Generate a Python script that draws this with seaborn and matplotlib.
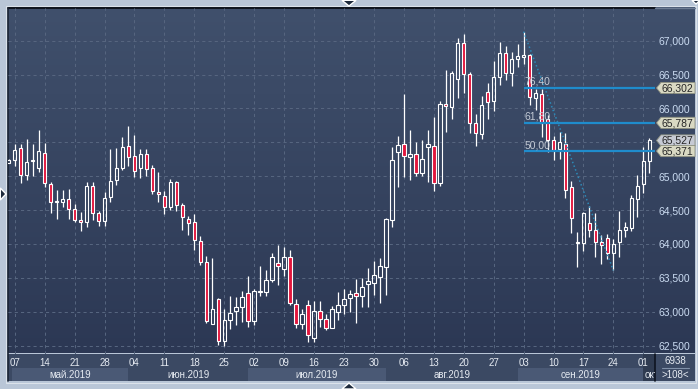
import numpy as np
import pandas as pd
import matplotlib
matplotlib.use("Agg")
import matplotlib.pyplot as plt
import matplotlib.transforms as mtransforms
from matplotlib.colors import LinearSegmentedColormap
from matplotlib.patches import Rectangle, Polygon
from matplotlib import font_manager
import seaborn as sns

# daily bars, first one is Mon 2019-05-06
opens = [65200, 65245, 65410, 65020, 65220, 65125, 65335, 64885, 64620, 64620,
         64660, 64510, 64350, 64320, 64850, 64450, 64335, 64690, 64940, 65125,
         65440, 65295, 65115, 65322, 65115, 64760, 64705, 64540, 64910, 64570,
         64375, 64330, 64050, 63740, 62818, 63193, 62567, 62882, 63015, 63074,
         63280, 62858, 63290, 63295, 63470, 63720, 63632, 63814, 63118, 62824,
         63103, 62618, 63015, 62897, 62765, 62995, 63103, 63195, 63268, 63224,
         63401, 63430, 63514, 63661, 64358, 65355, 65478, 65281, 65330, 65046,
         65429, 65448, 64898, 66067, 66028, 66428, 66961, 66502, 65792, 65629,
         66246, 66108, 66458, 66813, 66517, 66724, 66754, 66783, 66157, 66211,
         65837, 65541, 65396, 65470, 64834, 64011, 64016, 64302, 64198, 64021,
         64080, 63873, 64021, 64203, 64238, 64657, 64879, 65219]
highs = [65260, 65475, 65480, 65550, 65480, 65685, 65485, 64920, 64800, 64800,
         64805, 64595, 64470, 64920, 64920, 64485, 64760, 65400, 65410, 65585,
         65740, 65610, 65400, 65400, 65165, 65055, 64780, 64960, 64930, 64610,
         64415, 64440, 64110, 63820, 63785, 63200, 63035, 63227, 63220, 63300,
         63520, 63340, 63667, 63613, 63863, 63990, 63960, 63917, 63190, 63045,
         63177, 63157, 63157, 62970, 63079, 63294, 63340, 63318, 63489, 63504,
         63637, 63745, 63799, 64388, 65429, 65586, 66214, 65689, 65502, 65527,
         65689, 65881, 66116, 66573, 66558, 67035, 67094, 66542, 65925, 66182,
         66369, 66699, 66985, 66926, 66827, 66946, 67134, 66798, 66280, 66280,
         65910, 65595, 65658, 65633, 64928, 64169, 64465, 64558, 64450, 64129,
         64139, 64070, 64484, 64327, 64721, 65017, 65436, 65569]
lows = [65190, 65145, 64895, 64950, 65005, 65060, 64845, 64460, 64370, 64545,
        64370, 64330, 64185, 64250, 64355, 64270, 64270, 64625, 64875, 65085,
        65155, 64990, 64970, 65005, 64735, 64620, 64445, 64500, 64485, 64200,
        64130, 63910, 63685, 62830, 62818, 62502, 62493, 62740, 62810, 62850,
        62775, 62800, 63225, 63235, 63432, 63387, 63520, 63100, 62765, 62750,
        62555, 62545, 62775, 62726, 62765, 62873, 62970, 62998, 62836, 63072,
        63072, 63244, 63131, 63244, 64250, 64840, 64987, 64938, 65002, 65002,
        64909, 64776, 64854, 65650, 65846, 66157, 66221, 65639, 65447, 65556,
        65841, 65960, 66344, 66418, 66330, 66615, 66650, 66058, 65975, 65580,
        65358, 65235, 65249, 64672, 64154, 63661, 63898, 64095, 63809, 63701,
        63770, 63608, 63809, 64105, 64193, 64401, 64755, 65051]
closes = [65240, 65390, 65020, 65215, 65235, 65365, 64900, 64615, 64630, 64665,
          64510, 64360, 64320, 64850, 64455, 64335, 64685, 64930, 65125, 65435,
          65280, 65080, 65322, 65100, 64785, 64730, 64540, 64910, 64570, 64400,
          64315, 64060, 63740, 62862, 63045, 62567, 62882, 62986, 63074, 63220,
          62858, 63304, 63300, 63470, 63814, 63680, 63814, 63123, 62824, 62970,
          62652, 63015, 62897, 62765, 63035, 63103, 63192, 63254, 63224, 63357,
          63450, 63534, 63671, 64373, 65242, 65463, 65301, 65330, 65046, 65257,
          65468, 64898, 66067, 66033, 66519, 66961, 66502, 65792, 65644, 66044,
          66088, 66458, 66813, 66527, 66724, 66768, 66783, 66167, 66231, 65787,
          65541, 65383, 65500, 64795, 64376, 64020, 64450, 64198, 64021, 63991,
          63873, 64006, 64203, 64248, 64672, 64854, 65219, 65527]

start_date = "2019-05-06"
price_ticks = [62500, 63000, 63500, 64000, 64500, 65000, 65500, 66000, 66500, 67000]
fib_ratios = [0.764, 0.618, 0.5]
fib_names = ["76,40", "61,80", "50,00"]
swing_high_bar = 86
swing_low_bar = 101
volume_label = "6938"
month_abbr = {5: "май", 6: "июн", 7: "июл", 8: "авг", 9: "сен", 10: "окт"}

df = pd.DataFrame({"open": opens, "high": highs, "low": lows, "close": closes})
df["bar"] = np.arange(len(df))
df["date"] = pd.bdate_range(start_date, periods=len(df))
df["up"] = df["close"] >= df["open"]

W, H = 698, 389
frame_col = "#b9c6d7"
red = "#e2163d"

names = {f.name for f in font_manager.fontManager.ttflist}
if "Liberation Sans Narrow" in names:
    base_font, fs = "Liberation Sans Narrow", 8
else:
    base_font, fs = "Liberation Sans", 7

sns.set_theme(style="dark")
plt.rcParams["font.family"] = [base_font, "DejaVu Sans"]

fig = plt.figure(figsize=(W / 100, H / 100), dpi=100)
fig.patch.set_facecolor(frame_col)


def frac(x0, y0, x1, y1):
    return [x0 / W, 1 - y1 / H, (x1 - x0) / W, (y1 - y0) / H]


# background panel in pixel coordinates
bg = fig.add_axes([0, 0, 1, 1], zorder=0)
bg.axis("off")
grad = np.linspace(0, 1, 256).reshape(-1, 1)
cmap = LinearSegmentedColormap.from_list("panel", ["#40506c", "#2c3854"])
bg.imshow(grad, extent=(8, 695, 353.5, 8), aspect="auto", cmap=cmap, interpolation="bilinear")
bg.set_xlim(0, W)
bg.set_ylim(H, 0)
bg.add_patch(Rectangle((8, 353.5), 687, 27.5, fc="#3b4963", ec="none"))
bg.add_patch(Rectangle((6.3, 6.3), 689.4, 376.4, fill=False, ec="#dbe2ea", lw=0.8))
bg.plot([8, 655], [8.2, 8.2], color="#0b0f18", lw=1.3)
bg.plot([655, 695], [8.2, 8.2], color="#6f7e96", lw=1.0)
bg.plot([7.8, 7.8], [8, 381], color="#1b2434", lw=1.2)

# main chart
ax = fig.add_axes(frac(8, 8, 655, 353.5), zorder=2)
ax.set_facecolor("none")

body_lo = df[["open", "close"]].min(axis=1)
body_hi = df[["open", "close"]].max(axis=1)
ax.vlines(df["bar"], df["low"], body_lo, color="white", lw=0.9, zorder=3)
ax.vlines(df["bar"], body_hi, df["high"], color="white", lw=0.9, zorder=3)
heights = (body_hi - body_lo).clip(lower=14)
faces = ["none" if u else red for u in df["up"]]
ax.bar(df["bar"], heights, bottom=body_lo, width=0.58, color=faces,
       edgecolor="white", linewidth=0.8, zorder=4)

x_left, x_right = -0.12, 107.95

# fibonacci retracement from swing high to swing low
hi = df["high"][swing_high_bar]
lo = df["low"][swing_low_bar]
levels = [round(lo + r * (hi - lo)) for r in fib_ratios]
ax.hlines(levels, swing_high_bar, x_right, color="#1f8ccc", lw=1.6, zorder=5)
for lv, nm in zip(levels, fib_names):
    ax.text(swing_high_bar + 0.1, lv + 15, nm, ha="left", va="bottom",
            fontsize=fs + 0.5, color="#c3cad5", zorder=5.5)
sns.lineplot(x=[swing_high_bar, swing_low_bar], y=[hi, lo], ax=ax,
             color="#2c8ab8", lw=1.1, linestyle=(0, (1, 1.6)), zorder=6)

ax.set_xlim(x_left, x_right)
ax.set_ylim(62382, 67483)


def to_px(v):
    return bg.transData.inverted().transform(ax.transData.transform((0, v)))[1]


tag_prices = [closes[-1]] + levels
tag_px = [to_px(v) for v in tag_prices]
# tick labels that sit under a price tag are hidden, as on the terminal
ylabels = [("" if min(abs(to_px(v) - t) for t in tag_px) < 7 else f"{v:,}") for v in price_ticks]

ax.set_yticks(price_ticks)
ax.set_yticklabels(ylabels)
ax.yaxis.tick_right()
ax.set_xticks(df["bar"][1::5])
ax.set_xticklabels(df["date"][1::5].dt.strftime("%d"))
ax.tick_params(axis="y", length=0, pad=2.2, labelsize=fs + 0.5, labelcolor="#cbdcf2")
ax.tick_params(axis="x", length=0, pad=3.5, labelsize=fs, labelcolor="#e6ebf2")
ax.grid(True, color="#56657f", lw=0.75, linestyle=(0, (3, 3)))
ax.set_axisbelow(True)
for s in ax.spines.values():
    s.set_visible(False)
ax.set_xlabel("")
ax.set_ylabel("")

# month row under the day labels
blend = mtransforms.blended_transform_factory(ax.transData, bg.transData)
firsts = df.groupby(df["date"].dt.month)["bar"].min()
mlist = list(firsts.index)
cut = mtransforms.TransformedBbox(mtransforms.Bbox([[0, 353.5], [655, 381]]), bg.transData)
for k, m in enumerate(mlist):
    start = max(firsts[m], x_left + 0.75)
    end = firsts[mlist[k + 1]] if k + 1 < len(mlist) else x_right
    label = f"{month_abbr[m]}.{df['date'][firsts[m]].year}"
    if k == len(mlist) - 1:
        # last month is cut by the price column, only its start shows
        bg.add_patch(Rectangle((start, 353.5), end - start, 27.5, transform=blend,
                               fc="#2f3b51", ec="none"))
        t = bg.text(start + 0.2, 374.5, label[:4], transform=blend, ha="left", va="center",
                    fontsize=fs, color="#e6ebf2")
        t.set_clip_box(cut)
        t.set_clip_on(True)
    else:
        if k % 2 == 0:
            bg.add_patch(Rectangle((start, 368), end - start, 13, transform=blend,
                                   fc="#4a5975", ec="none"))
        bg.text((start + end) / 2, 374.5, label, transform=blend, ha="center",
                va="center", fontsize=fs, color="#e6ebf2")

bg.plot([655, 655], [353.5, 381], color="#0e1420", lw=1.2)
bg.text(675.5, 361, volume_label, ha="center", va="center", fontsize=fs, color="#e6ebf2")
bg.plot([662, 689], [367.5, 367.5], color="#8090a8", lw=0.8)
bg.text(675.5, 374.5, f">{len(df)}<", ha="center", va="center", fontsize=fs, color="#e6ebf2")

# overlay: price tags and frame arrows
fg = fig.add_axes([0, 0, 1, 1], zorder=6)
fg.set_xlim(0, W)
fg.set_ylim(H, 0)
fg.axis("off")
fg.patch.set_alpha(0)


def tag(v, y, face):
    fg.add_patch(Polygon([(656.5, y), (661, y - 5.6), (695, y - 5.6), (695, y + 5.6), (661, y + 5.6)],
                         closed=True, fc=face, ec="#8d9080", lw=0.6))
    fg.text(661.5, y + 0.3, f"{v:,}", ha="left", va="center", fontsize=fs + 0.5, color="#262626")


tag(tag_prices[0], tag_px[0], "#c6cad4")
for v, y in zip(tag_prices[1:], tag_px[1:]):
    tag(v, y, "#d9d9c3")

arrow_col = "#1d2a3c"
fg.add_patch(Polygon([(342, 0.3), (356, 0.3), (349, 6)], fc=arrow_col))
fg.add_patch(Polygon([(342, 389), (356, 389), (349, 383)], fc=arrow_col))
fg.add_patch(Polygon([(0.3, 188), (0.3, 200), (6, 194)], fc=arrow_col))
fg.add_patch(Polygon([(692, 0.3), (700, 0.3), (696, 4)], fc=arrow_col))

fig.savefig("out.png", dpi=100, facecolor=fig.get_facecolor())
